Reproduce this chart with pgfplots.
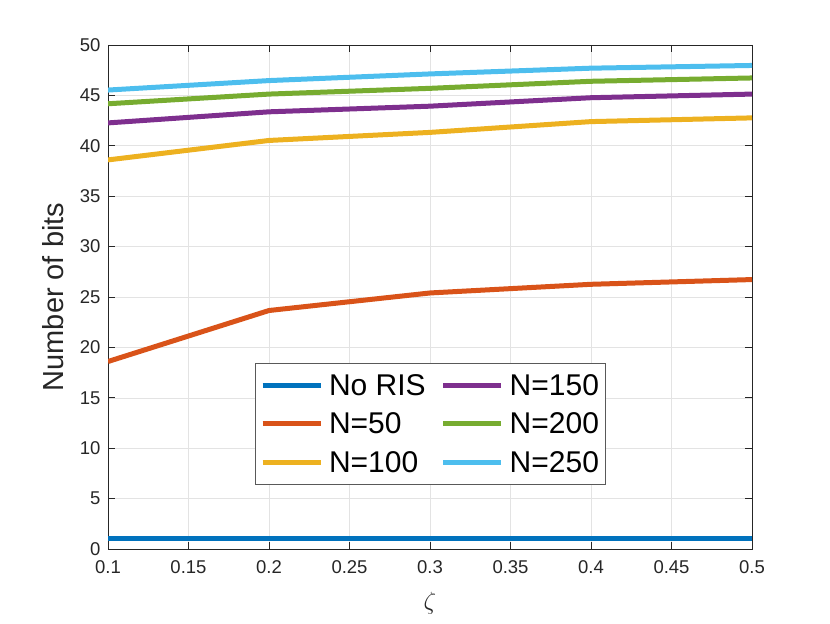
\documentclass[border=0pt]{standalone}
\usepackage{pgfplots}
\pgfplotsset{compat=1.18}
\usepackage{fontspec}
\setmainfont{Liberation Sans}
\definecolor{c1}{rgb}{0,0.447,0.741}
\definecolor{c2}{rgb}{0.85,0.325,0.098}
\definecolor{c3}{rgb}{0.929,0.694,0.125}
\definecolor{c4}{rgb}{0.494,0.184,0.556}
\definecolor{c5}{rgb}{0.466,0.674,0.188}
\definecolor{c6}{rgb}{0.301,0.745,0.933}
\definecolor{axc}{rgb}{0.15,0.15,0.15}
\begin{document}
\begin{tikzpicture}
\begin{axis}[name=ax,
  scale only axis, width=644pt, height=504pt,
  xmin=0.1, xmax=0.5, ymin=0, ymax=50,
  xtick={0.1,0.15,...,0.5}, ytick={0,5,...,50},
  xticklabels={0.1,0.15,0.2,0.25,0.3,0.35,0.4,0.45,0.5},
  /pgf/number format/assume math mode=true,
  tick label style={font=\fontsize{18.5}{21}\selectfont, text=axc},
  xticklabel style={yshift=-8pt},
  yticklabel style={xshift=-4pt},
  axis line style={axc, line width=0.8pt},
  tick style={axc, line width=0.8pt},
  major tick length=7pt,
  tick align=inside,
  grid=major, grid style={gray!22, line width=0.6pt},
  xlabel={$\zeta$}, ylabel={Number of bits},
  label style={font=\fontsize{29}{33}\selectfont, text=axc},
  xlabel style={font=\fontsize{31}{34}\selectfont, yshift=-12pt},
  ylabel style={yshift=9pt},
  legend columns=2,
  legend cell align=left,
  legend style={at={(0.5,0.127)}, anchor=south, draw=gray!70!black, line width=0.8pt,
    font=\fontsize{30}{34}\selectfont, inner xsep=5pt, inner ysep=10pt,
    nodes={inner sep=1pt},
    /tikz/every odd column/.append style={column sep=5pt},
    /tikz/every even column/.append style={column sep=14pt},
    row sep=14pt},
  legend image code/.code={\draw[#1, line width=5pt] (0pt,0pt) -- (58pt,0pt);},
  every axis plot/.append style={line width=5pt},
]
\addplot[c1] coordinates {(0.1,1) (0.2,1) (0.3,1) (0.4,1) (0.5,1)};
\addlegendentry{No RIS}
\addplot[c4] coordinates {(0.1,42.27) (0.2,43.37) (0.3,43.93) (0.4,44.77) (0.5,45.13)};
\addlegendentry{N=150}
\addplot[c2] coordinates {(0.1,18.6) (0.2,23.66) (0.3,25.4) (0.4,26.26) (0.5,26.73)};
\addlegendentry{N=50}
\addplot[c5] coordinates {(0.1,44.17) (0.2,45.13) (0.3,45.7) (0.4,46.4) (0.5,46.73)};
\addlegendentry{N=200}
\addplot[c3] coordinates {(0.1,38.6) (0.2,40.53) (0.3,41.33) (0.4,42.4) (0.5,42.77)};
\addlegendentry{N=100}
\addplot[c6] coordinates {(0.1,45.53) (0.2,46.47) (0.3,47.13) (0.4,47.7) (0.5,47.97)};
\addlegendentry{N=250}
\end{axis}
\useasboundingbox ([xshift=-108pt,yshift=-74pt]ax.south west) rectangle ([xshift=78pt,yshift=45pt]ax.north east);
\end{tikzpicture}
\end{document}
